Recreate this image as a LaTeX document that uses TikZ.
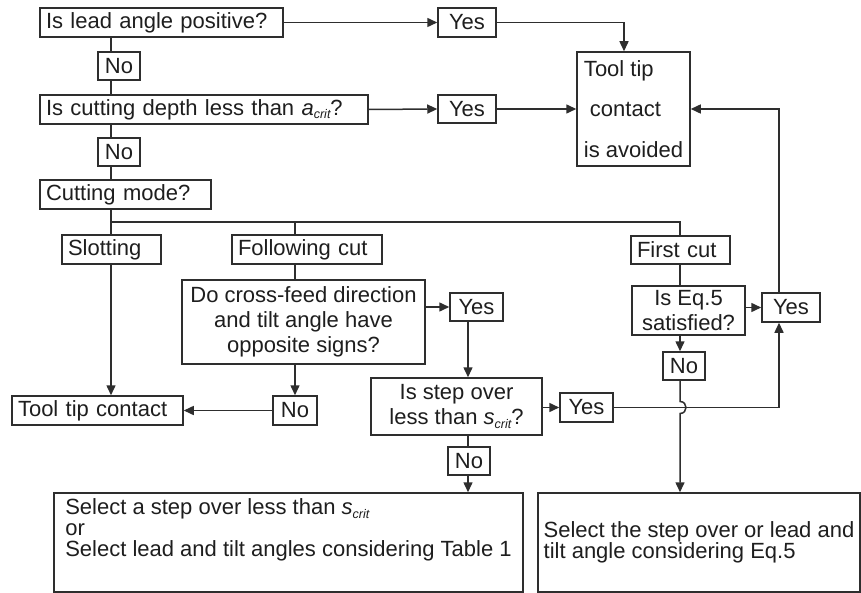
\documentclass[tikz,border=0pt]{standalone}
\usepackage{fontspec}
\setmainfont{Liberation Sans}
\usetikzlibrary{arrows.meta,calc}
\definecolor{lnc}{HTML}{2E2E2E}
\definecolor{txc}{HTML}{1E1E1E}
\newcommand{\critsub}{\raisebox{-3.5pt}{\fontsize{12.5}{12.5}\selectfont\itshape crit}}
\tikzset{
  bx/.style={draw=lnc, line width=1.5pt, fill=white, inner sep=0pt, text=txc, font=\fontsize{22}{25}\selectfont},
  lt/.style={align=left, inner xsep=6pt, text width=#1},
  arr/.style={draw=lnc, line width=1.5pt, -{Triangle[length=10pt,width=9pt]}},
  wire/.style={draw=lnc, line width=1.5pt},
}
\begin{document}
\begin{tikzpicture}[x=1pt,y=-1pt]
\useasboundingbox (0,0) rectangle (861,593);
\fill[white] (0,0) rectangle (861,593);
% nodes
\node[bx, lt=231pt, minimum height=29pt] (q1) at (161.5,22.5) {Is lead angle positive?};
\node[bx, minimum width=58pt, minimum height=29pt] (y1) at (467,22.5) {Yes};
\node[bx, align=left, minimum width=113pt, minimum height=114pt, font=\fontsize{22}{40.5}\selectfont] (tt) at (633.5,109) {Tool tip\\\hspace*{6pt}contact\\is avoided};
\node[bx, minimum width=42pt, minimum height=28pt] (n1) at (119,66) {No};
\node[bx, lt=316pt, minimum height=29pt] (q2) at (204,109.5) {Is cutting depth less than \textit{a}\critsub?};
\node[bx, minimum width=58pt, minimum height=28pt] (y2) at (467,109) {Yes};
\node[bx, minimum width=42pt, minimum height=28pt] (n2) at (119,152) {No};
\node[bx, lt=159pt, minimum height=29pt] (q3) at (125.5,194.5) {Cutting mode?};
\node[bx, lt=87pt, minimum height=29pt] (sl) at (111.5,249.5) {Slotting};
\node[bx, lt=138pt, minimum height=29pt] (fc) at (307,249.5) {Following cut};
\node[bx, lt=87pt, minimum height=28pt] (fic) at (680.5,250) {First cut};
\node[bx, align=center, minimum width=243pt, minimum height=84pt] (q4) at (303.5,322) {Do cross-feed direction\\and tilt angle have\\opposite signs?};
\node[bx, minimum width=53pt, minimum height=28pt] (y3) at (476.5,307) {Yes};
\node[bx, align=center, minimum width=171pt, minimum height=57pt] (q5) at (456.5,406.5) {Is step over\\less than \textit{s}\critsub?};
\node[bx, minimum width=53pt, minimum height=29pt] (y4) at (586.5,407.5) {Yes};
\node[bx, minimum width=42pt, minimum height=28pt] (n3) at (469,461) {No};
\node[bx, align=center, minimum width=113pt, minimum height=49pt] (q6) at (688.5,310.5) {Is Eq.5\\satisfied?};
\node[bx, minimum width=58pt, minimum height=29pt] (y5) at (791,307.5) {Yes};
\node[bx, minimum width=42pt, minimum height=28pt] (n4) at (684,366) {No};
\node[bx, lt=159pt, minimum height=29pt] (tc) at (97.5,410.5) {Tool tip contact};
\node[bx, minimum width=44pt, minimum height=29pt] (n5) at (295,410.5) {No};
\node[bx, align=left, minimum width=469pt, minimum height=99pt, font=\fontsize{22}{21}\selectfont] (bl) at (288.5,542.5) {Select a step over less than \textit{s}\critsub\\or\\Select lead and tilt angles considering Table 1\\[8pt]\mbox{}};
\node[bx, align=left, minimum width=322pt, minimum height=99pt, font=\fontsize{22}{20}\selectfont] (br) at (699,542.5) {Select the step over or lead and\\tilt angle considering Eq.5};
% guide coordinates
\coordinate (X1) at (111,0);
\coordinate (X2) at (295,0);
\coordinate (X3) at (680,0);
\coordinate (X4) at (468,0);
\coordinate (X5) at (779,0);
\coordinate (X6) at (624,0);
\coordinate (Hy) at (0,222);
% connectors
\draw[wire] (q1.south -| X1) -- (n1.north -| X1);
\draw[wire] (n1.south -| X1) -- (q2.north -| X1);
\draw[wire] (q2.south -| X1) -- (n2.north -| X1);
\draw[wire] (n2.south -| X1) -- (q3.north -| X1);
\draw[wire] (q3.south -| X1) -- (X1 |- Hy) -- (X3 |- Hy) -- (fic.north -| X3);
\draw[wire] (X1 |- Hy) -- (sl.north -| X1);
\draw[wire] (X2 |- Hy) -- (fc.north -| X2);
\draw[arr] (q1.east) -- (y1.west);
\draw[arr] (y1.east) -| (tt.north -| X6);
\draw[arr] (q2.east) -- (y2.west);
\draw[arr] (y2.east) -- (tt.west |- y2.east);
\draw[arr] (sl.south -| X1) -- (tc.north -| X1);
\draw[wire] (fc.south -| X2) -- (q4.north -| X2);
\draw[arr] (q4.south -| X2) -- (n5.north -| X2);
\draw[arr] (n5.west) -- (tc.east |- n5.west);
\draw[arr] (q4.east |- y3.west) -- (y3.west);
\draw[arr] (y3.south -| X4) -- (q5.north -| X4);
\draw[wire] (q5.south -| X4) -- (n3.north -| X4);
\draw[arr] (n3.south -| X4) -- (bl.north -| X4);
\draw[arr] (q5.east |- y4.west) -- (y4.west);
\draw[arr] (y4.east) -| (y5.south -| X5);
\draw[arr] (y5.north -| X5) |- (tt.east);
\draw[wire] (fic.south -| X3) -- (q6.north -| X3);
\draw[arr] (q6.east |- y5.west) -- (y5.west);
\draw[arr] (q6.south -| X3) -- (n4.north -| X3);
\draw[arr] (n4.south -| X3) -- ($(X3 |- y4.east)+(0,-6)$) .. controls +(8,0) and +(8,0) .. ($(X3 |- y4.east)+(0,6)$) -- (br.north -| X3);
\end{tikzpicture}
\end{document}
